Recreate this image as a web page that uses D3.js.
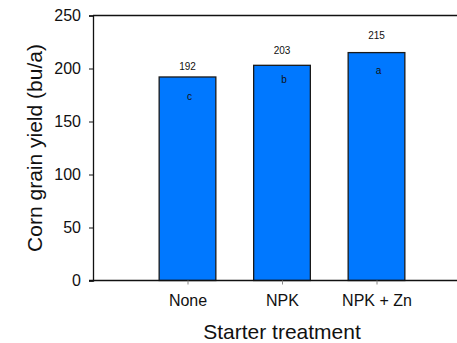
<!DOCTYPE html>
<html>
<head>
<meta charset="utf-8">
<script src="https://cdn.jsdelivr.net/npm/d3@7"></script>
<style>
  body { margin: 0; background: #fff; }
  text { font-family: "Liberation Sans", Arial, sans-serif; fill: #111; }
</style>
</head>
<body>
<script>
var w = 457,
  h = 343;

// treatments and mean yields (bu/a)
var treatments = ["None", "NPK", "NPK + Zn"];
var yields = [192, 203, 215];
var letters = ["c", "b", "a"];
// heights (bu/a) where the annotations sit
var valueLabelAt = [199, 214, 228];
var letterAt = [170, 186, 195];
var yTicks = [0, 50, 100, 150, 200, 250];

var svg = d3.select("body")
  .append("svg")
  .attr("width", w)
  .attr("height", h);

// x runs 0..4 with the categories at 1, 2, 3 (right part falls off the page)
var xScale = d3.scaleLinear().domain([0, 4]).range([93, 471]);
var yScale = d3.scaleLinear().domain([0, 250]).range([280.5, 15.5]);
var barW = xScale(0.6) - xScale(0);

// bars
svg.selectAll(".bar")
  .data(yields)
  .enter()
  .append("rect")
  .attr("class", "bar")
  .attr("x", (d, i) => xScale(i + 1) - barW / 2)
  .attr("y", d => yScale(d))
  .attr("width", barW)
  .attr("height", d => yScale(0) - yScale(d))
  .attr("fill", "#0078ff")
  .attr("stroke", "#1a1a1a")
  .attr("stroke-width", 1.3);

// value labels above the bars
svg.selectAll(".val")
  .data(yields)
  .enter()
  .append("text")
  .attr("class", "val")
  .attr("x", (d, i) => xScale(i + 1))
  .attr("y", (d, i) => yScale(valueLabelAt[i]))
  .attr("text-anchor", "middle")
  .style("font-size", "10px")
  .text(d => d);

// significance letters inside the bars
svg.selectAll(".letter")
  .data(letters)
  .enter()
  .append("text")
  .attr("class", "letter")
  .attr("x", (d, i) => xScale(i + 1) + 2)
  .attr("y", (d, i) => yScale(letterAt[i]))
  .attr("text-anchor", "middle")
  .style("font-size", "10px")
  .text(d => d);

// top frame line
svg.append("line")
  .attr("x1", xScale(0)).attr("x2", xScale(4))
  .attr("y1", yScale(250)).attr("y2", yScale(250))
  .attr("stroke", "#111")
  .attr("stroke-width", 1.3);

//Y axis
var yAxis = d3.axisLeft(yScale).tickValues(yTicks).tickSize(4).tickPadding(8);
var gy = svg.append("g")
  .attr("transform", `translate(${xScale(0)}, 0)`)
  .call(yAxis);
gy.select(".domain").attr("stroke", "#111").attr("stroke-width", 1.3);
gy.selectAll(".tick line").attr("stroke", "#111");
gy.selectAll(".tick text").style("font-size", "16px")
  .style("font-family", "'Liberation Sans', Arial, sans-serif").attr("fill", "#111");

//X axis
var xAxis = d3.axisBottom(xScale)
  .tickValues([1, 2, 3])
  .tickFormat((d, i) => treatments[i])
  .tickSize(4)
  .tickSizeOuter(0)
  .tickPadding(10);
var gx = svg.append("g")
  .attr("transform", `translate(0, ${yScale(0)})`)
  .call(xAxis);
gx.select(".domain").attr("stroke", "#111").attr("stroke-width", 1.3)
  .attr("d", `M${xScale(0) - 4},0H${xScale(4)}`);
gx.selectAll(".tick line").attr("stroke", "#888");
gx.selectAll(".tick text").style("font-size", "16px")
  .style("font-family", "'Liberation Sans', Arial, sans-serif").attr("fill", "#111");

// axis titles
svg.append("text")
  .attr("x", xScale(2))
  .attr("y", 339)
  .attr("text-anchor", "middle")
  .style("font-size", "21px")
  .text("Starter treatment");

svg.append("text")
  .attr("transform", `translate(42, ${(yScale(0) + yScale(250)) / 2}) rotate(-90)`)
  .attr("text-anchor", "middle")
  .style("font-size", "21px")
  .text("Corn grain yield (bu/a)");
</script>
</body>
</html>
